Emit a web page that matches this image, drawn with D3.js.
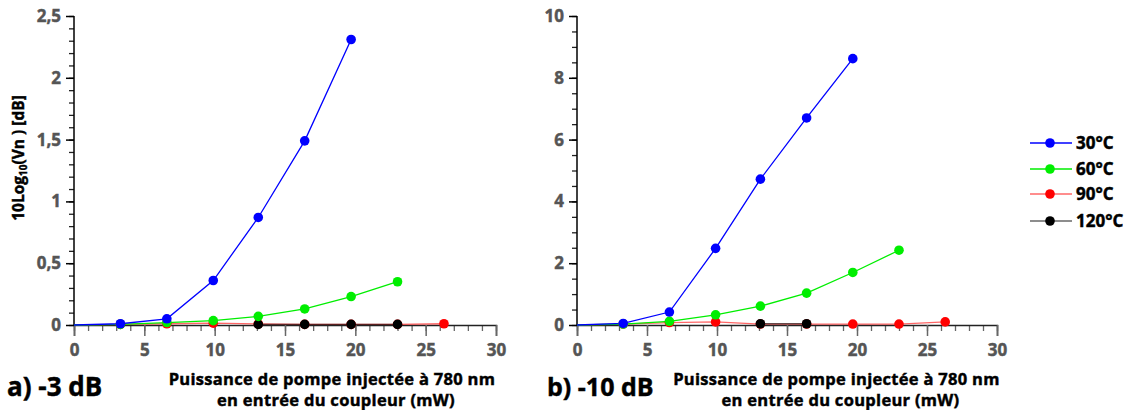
<!DOCTYPE html>
<html><head><meta charset="utf-8">
<script src="https://cdn.jsdelivr.net/npm/d3@7"></script>
<style>
body{margin:0;background:#fff;}
text{font-family:"Open Sans","Noto Sans",sans-serif;font-weight:700;}
</style></head>
<body><svg id="c" width="1128" height="410"></svg>
<script>
// ---- data ----
const pumpPower = [0, 3.3, 6.6, 9.9, 13.1, 16.4, 19.7, 23.0, 26.3];
const seriesNames = ["30°C", "60°C", "90°C", "120°C"];
// panel a) -3 dB  (null = point hidden under another series)
const a30 = [0, 0.01, 0.05, 0.36, 0.87, 1.49, 2.31];
const a60 = [0, 0.005, 0.02, 0.035, 0.07, 0.13, 0.23, 0.35];
const a90 = [0, 0.005, 0.01, 0.015, 0.008, 0.005, 0.005, 0.005, 0.01];
const a120 = [null, null, null, null, 0.005, 0.005, 0.005, 0.005];
// panel b) -10 dB
const b30 = [0, 0.05, 0.42, 2.48, 4.72, 6.7, 8.62];
const b60 = [0, 0.03, 0.12, 0.33, 0.61, 1.03, 1.7, 2.42];
const b90 = [0, 0.03, 0.08, 0.1, 0.03, 0.03, 0.03, 0.03, 0.1];
const b120 = [null, null, null, null, 0.04, 0.04];
const xTicks = [0, 5, 10, 15, 20, 25, 30];
const aYTicks = [0, 0.5, 1, 1.5, 2, 2.5];
const bYTicks = [0, 2, 4, 6, 8, 10];
const xTitle = ["Puissance de pompe injectée à 780 nm", "en entrée du coupleur (mW)"];
const panelLabels = ["a) -3 dB", "b) -10 dB"];

// ---- styles ----
const markerColor = ["#0000ff", "#00ee00", "#ff0000", "#000000"];
const lineColor = ["#0000ff", "#00ee00", "rgba(255,0,0,0.6)", "rgba(0,0,0,0.6)"];
const drawOrder = [2, 3, 1, 0];
const FONT = "Open Sans";

const svg = d3.select("#c");
const fmt = d => String(d).replace(".", ",");
const heavy = (sel, col) => sel.attr("stroke", col).attr("stroke-width", 0.45).attr("paint-order", "stroke");

function panel(cfg) {
  const x = d3.scaleLinear().domain([0, 30]).range([cfg.x0, cfg.x1]);
  const y = d3.scaleLinear().domain([0, cfg.yMax]).range([325, 16]);
  const g = svg.append("g");

  // x axis
  const xa = g.append("g").attr("transform", "translate(0,325)");
  xa.call(d3.axisBottom(x).tickValues(d3.range(0, 31, 1)).tickSize(6).tickFormat(""));
  xa.call(s => s.selectAll(".tick line").attr("stroke", "#666").attr("stroke-width", 1.3));
  xa.select(".domain").remove();
  const xb = g.append("g").attr("transform", "translate(0,325)");
  xb.call(d3.axisBottom(x).tickValues(xTicks).tickSize(11).tickPadding(8).tickFormat(d => d));
  xb.selectAll(".tick line").attr("stroke", "#666").attr("stroke-width", 1.5);
  xb.select(".domain").attr("stroke", "#222").attr("stroke-width", 1.5);
  xb.selectAll(".tick text").attr("fill", "#555").attr("font-size", 17).attr("font-family", FONT).attr("font-weight", 700).call(heavy, "#555");

  // y axis
  const ya = g.append("g").attr("transform", `translate(${cfg.x0},0)`);
  ya.call(d3.axisLeft(y).tickValues(d3.range(0, cfg.yMax + 1e-9, cfg.minor)).tickSize(5).tickFormat(""));
  ya.select(".domain").remove();
  ya.selectAll(".tick line").attr("stroke", "#222").attr("stroke-width", 1.3);
  const yb = g.append("g").attr("transform", `translate(${cfg.x0},0)`);
  yb.call(d3.axisLeft(y).tickValues(cfg.yTicks).tickSize(8).tickPadding(5).tickFormat(fmt));
  yb.select(".domain").attr("stroke", "#000").attr("stroke-width", 1.5).attr("d", `M0,${y(cfg.yMax)}V${y(0)}`);
  yb.selectAll(".tick line").attr("stroke", "#000").attr("stroke-width", 1.5);
  yb.selectAll(".tick text").attr("fill", "#555").attr("font-size", 17).attr("font-family", FONT).attr("font-weight", 700).call(heavy, "#555");

  // series
  const line = d3.line().defined(d => d[1] != null).x(d => x(d[0])).y(d => y(d[1]));
  drawOrder.forEach(i => {
    const pts = cfg.series[i].map((v, k) => [pumpPower[k], v]);
    g.append("path").attr("d", line(pts)).attr("fill", "none")
      .attr("stroke", lineColor[i]).attr("stroke-width", 1.3);
  });
  drawOrder.forEach(i => {
    const pts = cfg.series[i].map((v, k) => [pumpPower[k], v]).slice(1).filter(d => d[1] != null);
    g.selectAll(null).data(pts).enter().append("circle")
      .attr("cx", d => x(d[0])).attr("cy", d => y(d[1])).attr("r", 4.8)
      .attr("fill", markerColor[i]);
  });

  // titles
  const cx = (x(30) + cfg.titleLeft) / 2;
  g.append("text").attr("x", cx).attr("y", 385).attr("text-anchor", "middle")
    .attr("font-size", 16.5).attr("letter-spacing", 0.3).attr("fill", "#000").call(heavy, "#000").text(xTitle[0]);
  g.append("text").attr("x", cx + 4).attr("y", 406).attr("text-anchor", "middle")
    .attr("font-size", 16.5).attr("letter-spacing", 0.3).attr("fill", "#000").call(heavy, "#000").text(xTitle[1]);
  g.append("text").attr("x", cfg.labelX).attr("y", 396)
    .attr("font-size", cfg.labelSize).attr("fill", "#000").call(heavy, "#000").text(cfg.label);
}

panel({x0: 74, x1: 496, yMax: 2.5, minor: 0.1, yTicks: aYTicks,
  series: [a30, a60, a90, a120], label: panelLabels[0], labelX: 7, labelSize: 26, titleLeft: 168});
panel({x0: 577, x1: 997, yMax: 10, minor: 0.5, yTicks: bYTicks,
  series: [b30, b60, b90, b120], label: panelLabels[1], labelX: 547, labelSize: 25, titleLeft: 676});

// y axis title
const yt = svg.append("text").attr("transform", "translate(24,158) rotate(-90)")
  .attr("text-anchor", "middle").attr("font-size", 15.5).attr("fill", "#000").call(heavy, "#000");
yt.append("tspan").text("10Log");
yt.append("tspan").attr("font-size", 10).attr("dy", 3).text("10");
yt.append("tspan").attr("dy", -3).text("(Vn ) [dB]");

// legend
const legY = [143, 169, 194, 221];
const leg = svg.append("g");
seriesNames.forEach((n, i) => {
  leg.append("line").attr("x1", 1030).attr("x2", 1072).attr("y1", legY[i]).attr("y2", legY[i])
    .attr("stroke", lineColor[i]).attr("stroke-width", 1.5);
  leg.append("circle").attr("cx", 1050).attr("cy", legY[i]).attr("r", 4.8).attr("fill", markerColor[i]);
  leg.append("text").attr("x", 1076).attr("y", legY[i] + 6).attr("font-size", 17)
    .attr("fill", "#000").call(heavy, "#000").text(n);
});
</script></body></html>
